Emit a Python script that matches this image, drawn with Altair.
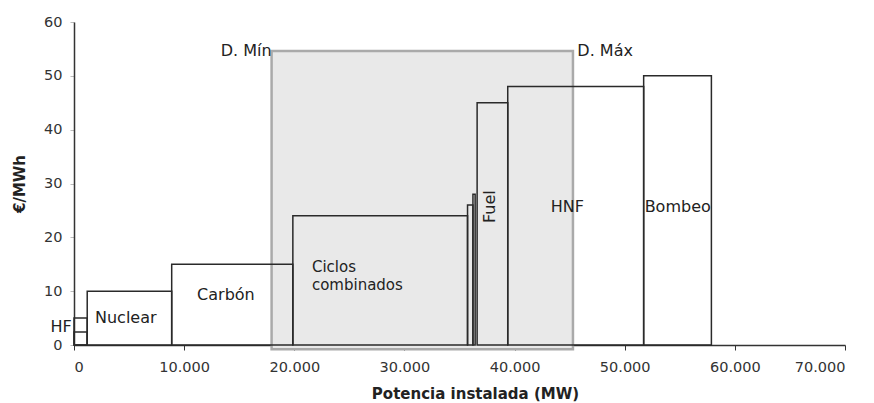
import altair as alt
import pandas as pd

# Supply blocks (MW ranges and cost €/MWh)
block_start = [0, 0, 1200, 8870, 19870, 35730, 36220, 36600, 39380, 51720]
block_end = [1200, 1200, 8870, 19870, 35730, 36220, 36420, 39380, 51720, 57870]
block_cost = [2.4, 5, 10, 15, 24, 26, 28, 45, 48, 50]

# Demand band
demand_min = 17940
demand_max = 45300
band_low = -0.8
band_high = 54.6

# Labels
label_text = ["HF", "Nuclear", "Carbón", "Ciclos", "combinados", "HNF", "Bombeo"]
label_x = [-1180, 4700, 13790, 21600, 21600, 44780, 54810]
label_y = [3.4, 5.1, 9.2, 14.4, 11.2, 25.7, 25.7]
label_align = ["center", "center", "center", "left", "left", "center", "center"]
label_size = [16, 16, 16, 15, 15, 16, 16]

x_ticks = [0, 10000, 20000, 30000, 40000, 50000, 60000, 70000]
y_ticks = [0, 10, 20, 30, 40, 50, 60]

FONT = "DejaVu Sans"

blocks = pd.DataFrame({"x": block_start, "x2": block_end, "y": block_cost})
band = pd.DataFrame({"x": [demand_min], "x2": [demand_max], "y": [band_low], "y2": [band_high]})
labels = pd.DataFrame({"t": label_text, "x": label_x, "y": label_y, "a": label_align, "s": label_size})

xs = alt.Scale(domain=[0, 70000], nice=False, zero=False)
ys = alt.Scale(domain=[0, 60], nice=False)

xaxis = alt.Axis(values=x_ticks, grid=False, title="Potencia instalada (MW)",
                 labelExpr="replace(format(datum.value, ','), ',', '.')",
                 labelFont=FONT, labelFontSize=14.5, labelColor="#333",
                 titleFont=FONT, titleFontSize=15, titleFontWeight="bold", titleColor="#222",
                 titleX=401, titlePadding=13,
                 domainColor="#333", domainWidth=1.5, tickColor="#333", tickSize=5,
                 labelPadding=10)
yaxis = alt.Axis(values=y_ticks, grid=False, title="€/MWh",
                 labelFont=FONT, labelFontSize=14.5, labelColor="#333",
                 titleFont=FONT, titleFontSize=15, titleFontWeight="bold", titleColor="#222",
                 titlePadding=16,
                 domainColor="#333", domainWidth=1.5, tickColor="#bbb", tickSize=4,
                 labelPadding=8)

shade = alt.Chart(band).mark_rect(fill="#e9e9e9", stroke="#aaaaaa", strokeWidth=2.5, clip=False).encode(
    x=alt.X("x:Q", scale=xs, axis=xaxis), x2="x2:Q",
    y=alt.Y("y:Q", scale=ys, axis=yaxis), y2="y2:Q")

rects = alt.Chart(blocks).mark_rect(fill="white", fillOpacity=0, stroke="#2a2a2a", strokeWidth=1.5).encode(
    x=alt.X("x:Q", scale=xs), x2="x2:Q",
    y=alt.Y("y:Q", scale=ys), y2=alt.datum(0))

text_layers = []
for al in ["center", "left"]:
    for sz in sorted(set(label_size)):
        sub = labels[(labels["a"] == al) & (labels["s"] == sz)]
        if len(sub) == 0:
            continue
        text_layers.append(
            alt.Chart(sub).mark_text(
                font=FONT, fontSize=sz, color="#222", align=al, baseline="middle", clip=False
            ).encode(x=alt.X("x:Q", scale=xs), y=alt.Y("y:Q", scale=ys), text="t:N"))

fuel = alt.Chart(pd.DataFrame({"t": ["Fuel"], "x": [37750], "y": [25.7]})).mark_text(
    font=FONT, fontSize=16, color="#222", angle=270, align="center", baseline="middle"
).encode(x=alt.X("x:Q", scale=xs), y=alt.Y("y:Q", scale=ys), text="t:N")

dmin = alt.Chart(pd.DataFrame({"t": ["D. Mín"], "x": [demand_min], "y": [band_high]})).mark_text(
    font=FONT, fontSize=16, color="#222", align="right", baseline="middle"
).encode(x=alt.X("x:Q", scale=xs), y=alt.Y("y:Q", scale=ys), text="t:N")

dmax = alt.Chart(pd.DataFrame({"t": ["D. Máx"], "x": [demand_max + 400], "y": [band_high]})).mark_text(
    font=FONT, fontSize=16, color="#222", align="left", baseline="middle"
).encode(x=alt.X("x:Q", scale=xs), y=alt.Y("y:Q", scale=ys), text="t:N")

chart = alt.layer(shade, rects, *text_layers, fuel, dmin, dmax).properties(
    width=771, height=323,
    autosize=alt.AutoSizeParams(type="none"),
    padding={"left": 74, "top": 22, "right": 29, "bottom": 58},
    background="white",
).configure_view(stroke=None)

chart.save("out.html", embed_options={"renderer": "svg", "actions": False})
